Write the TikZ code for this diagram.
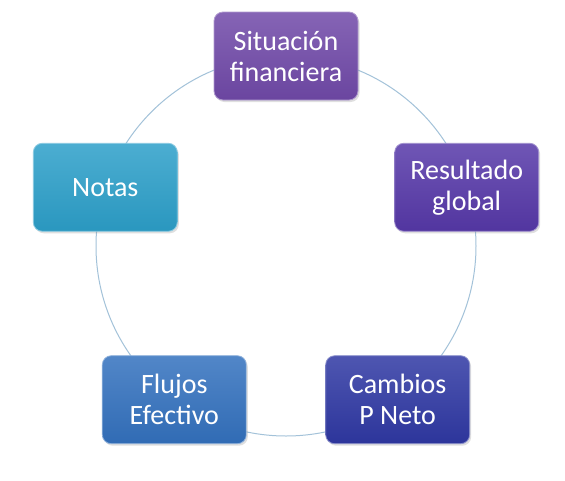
\documentclass[tikz,border=0pt]{standalone}
\usepackage{fontspec}
\newfontfamily\cardfont{Carlito}
\usetikzlibrary{calc,shadows}
\definecolor{ringBlue}{HTML}{A3C2D9}
\definecolor{sitPurple}{HTML}{7049A8}
\definecolor{resViolet}{HTML}{5638A8}
\definecolor{camIndigo}{HTML}{2F38A3}
\definecolor{fluBlue}{HTML}{3371BE}
\definecolor{notCyan}{HTML}{2C9FC9}
\tikzset{
  ring/.style={draw=ringBlue, line width=1pt},
  card/.style={rounded corners=9pt, top color=#1!85!white, bottom color=#1!95!black,
    draw=#1!55!white, line width=0.8pt,
    drop shadow={opacity=0.25, shadow xshift=1.5pt, shadow yshift=-2pt},
    minimum width=144pt, minimum height=88pt, align=center,
    text=white, font=\cardfont\fontsize{28}{31}\selectfont}
}
\begin{document}
\begin{tikzpicture}[x=1pt,y=1pt]
  \useasboundingbox[fill=white] (0,0) rectangle (565,-480);
  \coordinate (ctr) at (286,-246);
  \draw[ring] (ctr) circle (190);
  \foreach \n/\a/\c/\t in {sit/90/sitPurple/Situación\\financiera,
      res/18/resViolet/Resultado\\global,
      cam/-54/camIndigo/Cambios\\P Neto,
      flu/-126/fluBlue/Flujos\\Efectivo,
      not/162/notCyan/Notas}{
    \node[card=\c] (\n) at ($(ctr)+(\a:190)$) {\t};
  }
\end{tikzpicture}
\end{document}
